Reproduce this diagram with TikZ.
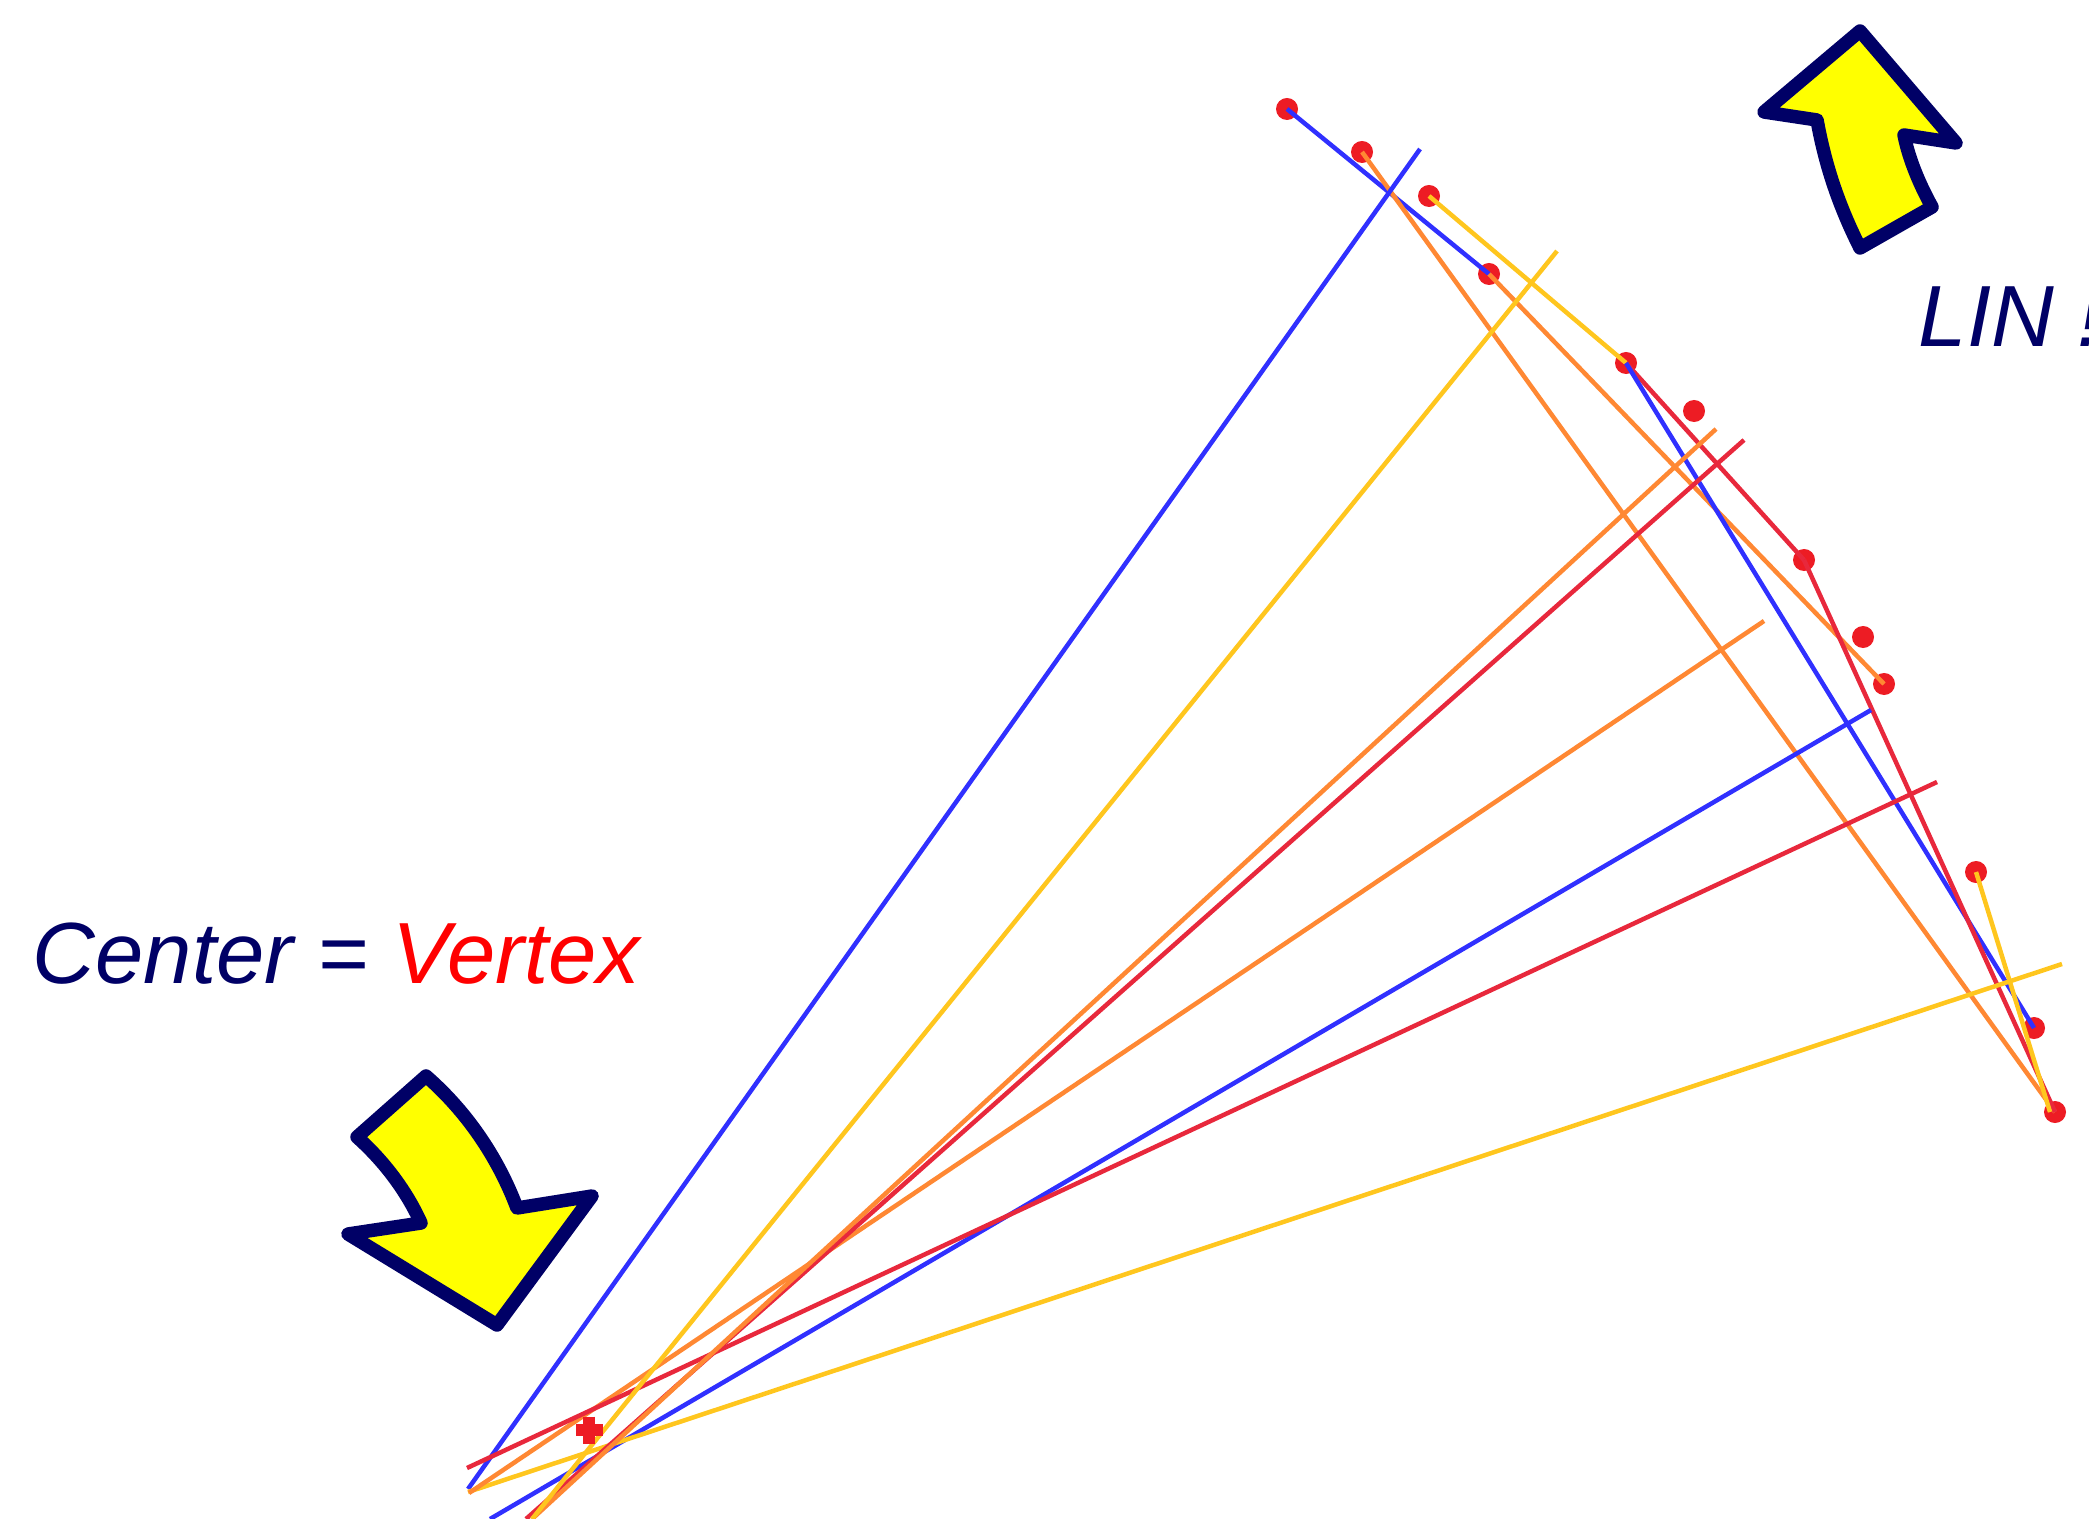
\documentclass[tikz,border=0pt]{standalone}
\usepackage{fontspec}
\setmainfont{Liberation Sans}
\usetikzlibrary{calc}
\definecolor{fitblue}{RGB}{48,48,255}
\definecolor{fitorange}{RGB}{255,136,51}
\definecolor{fityellow}{RGB}{255,198,30}
\definecolor{fitred}{RGB}{232,40,60}
\definecolor{hitred}{RGB}{237,28,36}
\definecolor{navy}{RGB}{0,0,102}
\definecolor{arrowyellow}{RGB}{255,255,0}
\definecolor{vertexred}{RGB}{255,0,0}

\begin{document}
\begin{tikzpicture}[x=0.01cm, y=-0.01cm,
    hit/.style={circle, fill=hitred, inner sep=0pt, minimum size=0.22cm},
    fit/.style={line width=0.045cm},
    bigarrow/.style={draw=navy, fill=arrowyellow, line width=0.135cm, line join=round},
    label/.style={anchor=base west, inner sep=0pt, font=\itshape\fontsize{24.7}{30}\selectfont, text=navy}]
  \useasboundingbox (0, 0) rectangle (2089, 1519);

  \node[hit] (P1)  at (1287, 109) {};
  \node[hit] (P2)  at (1362, 152) {};
  \node[hit] (P3)  at (1429, 196) {};
  \node[hit] (P4)  at (1489, 274) {};
  \node[hit] (P5)  at (1626, 363) {};
  \node[hit] (P6)  at (1694, 411) {};
  \node[hit] (P7)  at (1804, 560) {};
  \node[hit] (P8)  at (1863, 637) {};
  \node[hit] (P9)  at (1884, 684) {};
  \node[hit] (P10) at (1976, 872) {};
  \node[hit] (P11) at (2034, 1028) {};
  \node[hit] (P12) at (2055, 1112) {};
  \coordinate (T) at (2050, 1112);

  \draw[fit, fitblue]   (P1.center) -- (P4.center);
  \draw[fit, fitorange] (P2.center) -- (P12.center);
  \draw[fit, fityellow] (P3.center) -- (P5.center);
  \draw[fit, fitorange] (P4.center) -- (P9.center);
  \draw[fit, fitred]    (P5.center) -- (P7.center);
  \draw[fit, fitblue]   (P5.center) -- (P11.center);
  \draw[fit, fitred]    (P7.center) -- (P12.center);
  \draw[fit, fityellow] (P10.center) -- (T);

  \coordinate (A1) at (1420, 149);
  \coordinate (A2) at (468, 1489);
  \coordinate (B1) at (1557, 251);
  \coordinate (B2) at (532, 1519);
  \coordinate (C1) at (1716, 429);
  \coordinate (C2) at (532, 1519);
  \coordinate (D1) at (1744, 440);
  \coordinate (D2) at (526, 1519);
  \coordinate (E1) at (1764, 621);
  \coordinate (E2) at (469, 1493);
  \coordinate (F1) at (1871, 710);
  \coordinate (F2) at (490, 1519);
  \coordinate (G1) at (1937, 782);
  \coordinate (G2) at (467, 1468);
  \coordinate (H1) at (2062, 964);
  \coordinate (H2) at (468, 1492);

  \draw[fit, fitblue]   (A1) -- (A2);
  \draw[fit, fitblue]   (F1) -- (F2);
  \draw[fit, fityellow] (H1) -- (H2);
  \draw[fit, fitorange] (E1) -- (E2);
  \draw[fit, fitred]    (G1) -- (G2);
  \draw[fit, fitred]    (D1) -- (D2);
  \draw[fit, fitorange] (C1) -- (C2);
  \draw[fit, fityellow] (B1) -- (B2);

  \coordinate (X) at (589, 1430);
  \draw[hitred, line width=0.12cm] ($(X)+(-13.5, 0)$) -- ($(X)+(13.5, 0)$);
  \draw[hitred, line width=0.12cm] ($(X)+(0, -13.5)$) -- ($(X)+(0, 13.5)$);

  \draw[bigarrow] (1860, 31) -- (1764, 112) -- (1817, 120)
    .. controls (1826, 170) and (1841, 210) .. (1860, 248)
    -- (1932, 207)
    .. controls (1917, 180) and (1908, 155) .. (1904, 135)
    -- (1956, 143) -- cycle;
  \draw[bigarrow] (426, 1076) -- (357, 1137)
    .. controls (385, 1162) and (407, 1192) .. (421, 1223)
    -- (348, 1234) -- (497, 1325) -- (592, 1196) -- (517, 1208)
    .. controls (497, 1155) and (465, 1110) .. cycle;

  \node[label] (center) at (32, 983) {Center = \textcolor{vertexred}{Vertex}};
  \node[label] (lin) at (1918, 347) {LIN !};
\end{tikzpicture}
\end{document}
